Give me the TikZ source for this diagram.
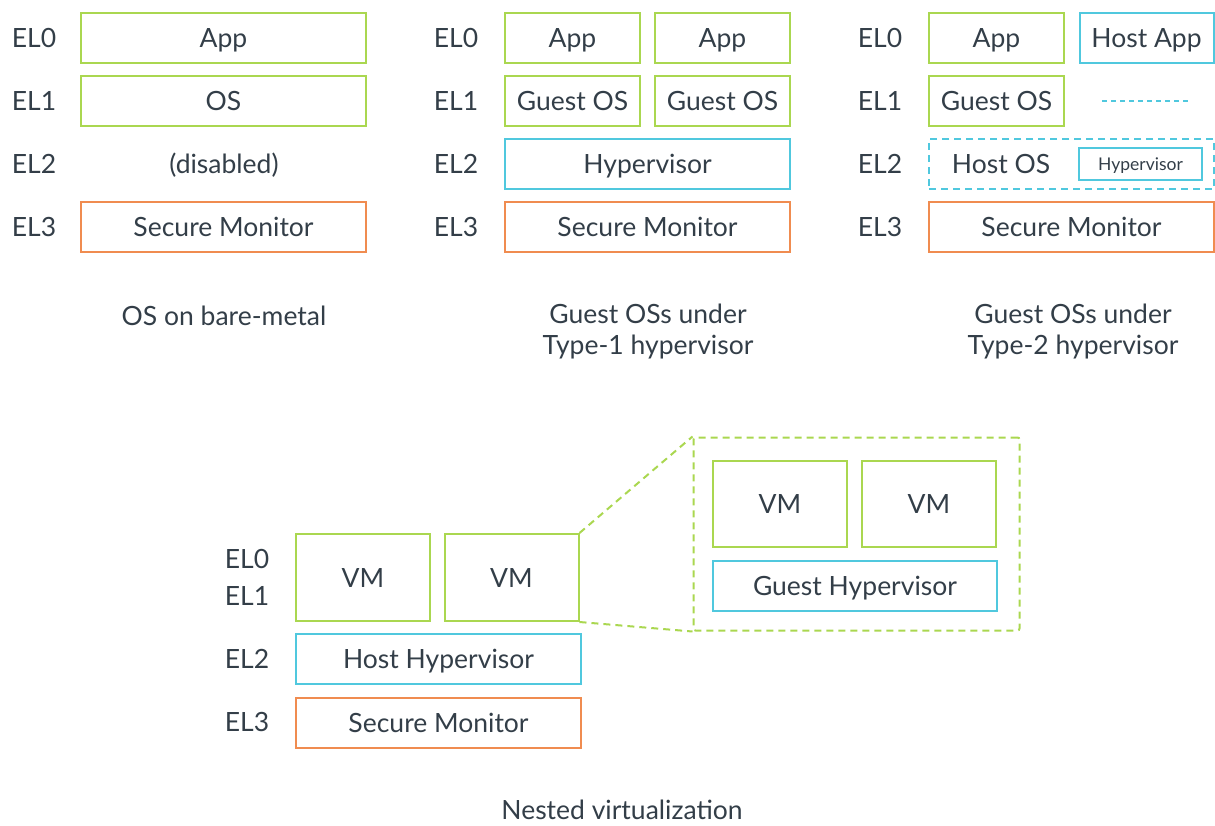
\documentclass[tikz,border=0pt]{standalone}
\usepackage{fontspec}
\setmainfont{Lato}
\usetikzlibrary{positioning}

\definecolor{txt}{RGB}{51,62,72}
\definecolor{grn}{RGB}{170,215,80}
\definecolor{blu}{RGB}{80,200,222}
\definecolor{org}{RGB}{240,140,80}

\tikzset{
    lvl/.style={text=txt, font=\fontsize{26.5}{30}\selectfont, text height=19pt, text depth=0pt},
    box/.style={draw, line width=2pt, text=txt, font=\fontsize{26.5}{30}\selectfont,
        minimum width=#1, minimum height=50pt, inner sep=0pt, text height=19pt, text depth=0pt},
    gbox/.style={box=#1, draw=grn},
    bbox/.style={box=#1, draw=blu},
    obox/.style={box=#1, draw=org},
    dsh/.style={line width=2pt, dash pattern=on 7pt off 5pt},
    captxt/.style={text=txt, font=\fontsize{26.5}{31}\selectfont, align=center}
}

\begin{document}
\begin{tikzpicture}[x=1pt, y=-1pt]
        \useasboundingbox ( 0, 0 ) rectangle ( 1215, 825 );

        % уровни
        \foreach \px/\pn in { 34/a, 456/b, 880/c } {
            \node [lvl] (el0\pn) at ( \px, 38 ) {EL0};
            \node [lvl] (el1\pn) at ( \px, 101 ) {EL1};
            \node [lvl] (el2\pn) at ( \px, 164 ) {EL2};
            \node [lvl] (el3\pn) at ( \px, 227 ) {EL3};
        }

        % bare-metal
        \node [gbox=285pt] (appA) at ( 223.5, 38 ) {App};
        \node [gbox=285pt] (osA) at ( 223.5, 101 ) {OS};
        \node [lvl] (offA) at ( 224, 164 ) {(disabled)};
        \node [obox=285pt] (smA) at ( 223.5, 227 ) {Secure Monitor};
        \node [captxt] (capA) at ( 224, 316 ) {OS on bare-metal};

        % type-1
        \node [gbox=135pt] (appB) at ( 572.5, 38 ) {App};
        \node [gbox=135pt] (appBB) at ( 722.5, 38 ) {App};
        \node [gbox=135pt] (gosB) at ( 572.5, 101 ) {Guest OS};
        \node [gbox=135pt] (gosBB) at ( 722.5, 101 ) {Guest OS};
        \node [bbox=285pt] (hypB) at ( 647.5, 164 ) {Hypervisor};
        \node [obox=285pt] (smB) at ( 647.5, 227 ) {Secure Monitor};
        \node [captxt] (capB) at ( 648, 331.5 ) {Guest OSs under\\Type-1 hypervisor};

        % type-2
        \node [gbox=135pt] (appC) at ( 996.5, 38 ) {App};
        \node [bbox=134pt] (happC) at ( 1146.5, 38 ) {Host App};
        \node [gbox=135pt] (gosC) at ( 996.5, 101 ) {Guest OS};
        \coordinate (dl) at ( 1102, 101 );
        \coordinate (dr) at ( 1191, 101 );
        \draw [blu, line width=1.5pt, dash pattern=on 5pt off 4pt] (dl) -- (dr);
        \node [box=285pt, draw=blu, dsh] (hosC) at ( 1071.5, 164 ) {};
        \node [lvl] (hosT) at ( 1001, 164 ) {Host OS};
        \node [draw=blu, line width=2pt, text=txt, font=\fontsize{17.5}{20}\selectfont,
            minimum width=123pt, minimum height=32pt, inner sep=0pt,
            text height=12.5pt, text depth=0pt] (hypC) at ( 1140.5, 164 ) {Hypervisor};
        \node [obox=285pt] (smC) at ( 1071.5, 227 ) {Secure Monitor};
        \node [captxt] (capC) at ( 1073, 331.5 ) {Guest OSs under\\Type-2 hypervisor};

        % вложенная виртуализация
        \node [lvl] (el0d) at ( 247, 559 ) {EL0};
        \node [lvl] (el1d) at ( 247, 596 ) {EL1};
        \node [lvl] (el2d) at ( 247, 659 ) {EL2};
        \node [lvl] (el3d) at ( 247, 722 ) {EL3};
        \node [gbox=134pt, minimum height=87pt] (vmA) at ( 363, 577.5 ) {VM};
        \node [gbox=134pt, minimum height=87pt] (vmB) at ( 511.5, 577.5 ) {VM};
        \node [bbox=285pt] (hhyp) at ( 438.5, 659 ) {Host Hypervisor};
        \node [obox=285pt] (smD) at ( 438.5, 722.5 ) {Secure Monitor};

        \node [box=326pt, minimum height=193pt, draw=grn, dsh, rounded corners=2pt] (nest) at ( 856.5, 534 ) {};
        \node [gbox=134pt, minimum height=86pt] (vmC) at ( 780, 504 ) {VM};
        \node [gbox=134pt, minimum height=86pt] (vmD) at ( 929, 504 ) {VM};
        \node [bbox=284pt] (ghyp) at ( 855, 586 ) {Guest Hypervisor};

        \draw [grn, dsh] (vmB.north east) -- (nest.north west);
        \draw [grn, dsh] (vmB.south east) -- (nest.south west);

        \node [captxt] (capD) at ( 622, 810 ) {Nested virtualization};
    \end{tikzpicture}
\end{document}
